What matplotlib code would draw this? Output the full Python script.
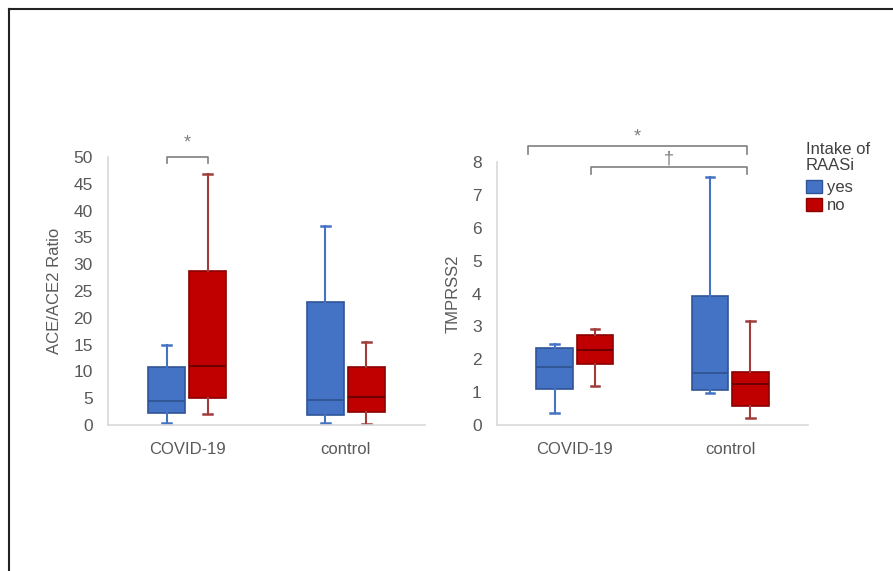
import matplotlib.pyplot as plt
from matplotlib.patches import Patch
from matplotlib.lines import Line2D

plt.rcParams['font.family'] = ['Liberation Sans', 'DejaVu Sans']

categories = ["COVID-19", "control"]
groups = ["yes", "no"]

# whisker low, Q1, median, Q3, whisker high
ace_yes = [[0.3, 2.2, 4.5, 10.9, 14.9], [0.3, 1.9, 4.7, 22.9, 37.2]]
ace_no = [[2.1, 5.0, 11.0, 28.8, 46.8], [0.1, 2.4, 5.3, 10.8, 15.4]]
tmp_yes = [[0.35, 1.09, 1.75, 2.33, 2.45], [0.98, 1.06, 1.57, 3.93, 7.54]]
tmp_no = [[1.19, 1.85, 2.28, 2.75, 2.91], [0.22, 0.59, 1.24, 1.62, 3.17]]

blue = "#4472C4"
red = "#C00000"
styles = {
    "yes": dict(face=blue, edge="#2F5597", med="#2F528F", whisk="#4472C4"),
    "no": dict(face=red, edge="#8B0000", med="#5A0000", whisk="#A33B3B"),
}
tick_col = "#595959"
spine_col = "#D9D9D9"
brk_col = "#7F7F7F"

fig = plt.figure(figsize=(8.93, 5.71), dpi=100)
ax1 = fig.add_axes([108 / 893, 1 - 425 / 571, 317 / 893, 268 / 571])
ax2 = fig.add_axes([497 / 893, 1 - 425 / 571, 311 / 893, 263 / 571])


def draw_boxes(ax, yes_vals, no_vals):
    for grp, vals, off in (("yes", yes_vals, -0.13), ("no", no_vals, 0.13)):
        st = styles[grp]
        stats = []
        for v in vals:
            stats.append(dict(whislo=v[0], q1=v[1], med=v[2], q3=v[3], whishi=v[4], fliers=[]))
        ax.bxp(stats, positions=[i + off for i in range(len(vals))], widths=0.235,
               patch_artist=True, showfliers=False,
               boxprops=dict(facecolor=st["face"], edgecolor=st["edge"], linewidth=1.2),
               medianprops=dict(color=st["med"], linewidth=1.2),
               whiskerprops=dict(color=st["whisk"], linewidth=1.5),
               capprops=dict(color=st["whisk"], linewidth=1.8), capwidths=0.055)
    ax.set_xlim(-0.5, 1.5)
    ax.set_xticks(range(len(categories)))
    ax.set_xticklabels(categories, fontsize=12, color=tick_col)
    for s in ("top", "right"):
        ax.spines[s].set_visible(False)
    for s in ("left", "bottom"):
        ax.spines[s].set_color(spine_col)
        ax.spines[s].set_linewidth(1.2)
    ax.tick_params(length=0, labelcolor=tick_col)
    ax.tick_params(axis="y", pad=11, labelsize=12.5)
    ax.tick_params(axis="x", pad=12, labelsize=12)


def bracket(ax, x0, x1, y, drop, label, ty):
    ax.plot([x0, x0, x1, x1], [y - drop, y, y, y - drop], color=brk_col, lw=1.2, clip_on=False)
    ax.text((x0 + x1) / 2, ty, label, ha="center", va="center", color=brk_col, fontsize=13)


draw_boxes(ax1, ace_yes, ace_no)
ax1.set_ylim(0, 50)
ax1.set_yticks(range(0, 51, 5))
ax1.set_ylabel("ACE/ACE2 Ratio", fontsize=12, color=tick_col, labelpad=8)
bracket(ax1, -0.13, 0.13, 50, 1.1, "*", 52.6)

draw_boxes(ax2, tmp_yes, tmp_no)
ax2.set_ylim(0, 8)
ax2.set_yticks(range(0, 9))
ax2.set_ylabel("TMPRSS2", fontsize=12, color=tick_col, labelpad=8)
bracket(ax2, -0.30, 1.11, 8.48, 0.25, "*", 8.76)
bracket(ax2, 0.105, 1.11, 7.85, 0.2, "\u2020", 8.1)

handles = [Patch(facecolor=styles[g]["face"], edgecolor=styles[g]["edge"]) for g in groups]
leg = fig.legend(handles, groups, title="Intake of\nRAASi", loc="upper left",
                 bbox_to_anchor=(804 / 893, 1 - 140 / 571), frameon=False, alignment="left",
                 fontsize=12, title_fontsize=12, handlelength=0.95, handleheight=0.85,
                 handletextpad=0.35, labelspacing=0.15, borderpad=0.1, borderaxespad=0,
                 labelcolor="#404040")
leg.get_title().set_color("#404040")
leg.get_title().set_linespacing(1.1)
leg._legend_box.sep = 5

# frame lines of the original panel
fig.add_artist(Line2D([9 / 893, 9 / 893], [0, 1 - 9 / 571], color="#222222", lw=1.5))
fig.add_artist(Line2D([9 / 893, 1], [1 - 9 / 571, 1 - 9 / 571], color="#222222", lw=1.5))

fig.savefig("out.png", dpi=100)
